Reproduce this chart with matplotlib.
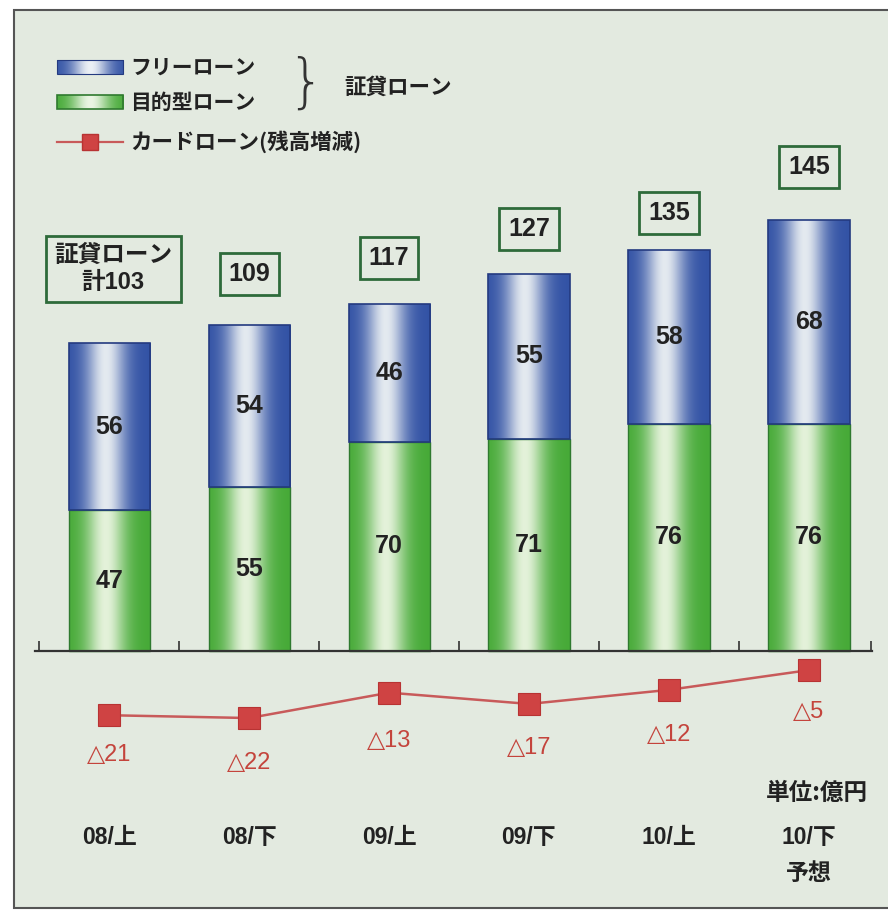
import numpy as np
import matplotlib
matplotlib.use("Agg")
import matplotlib.pyplot as plt
from matplotlib import font_manager as fm
from matplotlib.patches import Rectangle
from matplotlib.lines import Line2D

# ---------------- data ----------------
categories = ["08/上", "08/下", "09/上", "09/下", "10/上", "10/下\n予想"]
purpose_loan = [47, 55, 70, 71, 76, 76]      # 目的型ローン
free_loan = [56, 54, 46, 55, 58, 68]         # フリーローン
totals = [103, 109, 117, 127, 135, 145]      # 証貸ローン計
card_loan = [-21, -22, -13, -17, -12, -5]    # カードローン(残高増減)
card_labels = ["△21", "△22", "△13", "△17", "△12", "△5"]

# ---------------- style ----------------
_names = {f.name for f in fm.fontManager.ttflist}
NUM = "Liberation Sans Narrow" if "Liberation Sans Narrow" in _names else "Liberation Sans"
BG = "#e3eae0"
FONT = [NUM, "Noto Sans CJK JP", "DejaVu Sans"]
JFONT = ["Noto Sans CJK JP", "DejaVu Sans"]
plt.rcParams["font.family"] = FONT
TXT = "#222222"
RED = "#cf4343"
NSZ = 18 if NUM == "Liberation Sans" else 20

W, H = 888, 913
fig = plt.figure(figsize=(W / 100, H / 100), dpi=100, facecolor="white")

# background frame
fig.patches.append(Rectangle((14 / W, 1 - 908 / H), (900 - 14) / W, (908 - 10) / H,
                             transform=fig.transFigure, facecolor=BG,
                             edgecolor="#555555", linewidth=1.5, zorder=-5))

# ---------------- main axes ----------------
px_per_unit = 2.99
base_px = 651
top_px, bot_px = 100, 800
ax = fig.add_axes([35 / W, 1 - bot_px / H, (872 - 35) / W, (bot_px - top_px) / H])
ax.set_facecolor("none")
ylim = ((base_px - bot_px) / px_per_unit, (base_px - top_px) / px_per_unit)
xlim = (-0.53, 5.45)

x = np.arange(len(categories))
bw = 0.58


def gradient(edge, center, n=256, c0=0.45, s=0.24):
    t = np.linspace(0, 1, n)
    f = np.exp(-((t - c0) / s) ** 2)
    edge = np.array(edge) / 255.0
    center = np.array(center) / 255.0
    row = edge[None, :] + (center - edge)[None, :] * f[:, None]
    return row[None, :, :]


blue_grad = gradient((50, 82, 165), (228, 234, 240))
green_grad = gradient((70, 170, 55), (228, 242, 218))

g_bars = ax.bar(x, purpose_loan, width=bw, facecolor="none",
                edgecolor="#2f7a2f", linewidth=1.0, zorder=3)
b_bars = ax.bar(x, free_loan, width=bw, bottom=purpose_loan, facecolor="none",
                edgecolor="#243a80", linewidth=1.2, zorder=3)

for bars, grad in ((g_bars, green_grad), (b_bars, blue_grad)):
    for r in bars:
        x0, y0 = r.get_x(), r.get_y()
        im = ax.imshow(grad, extent=[x0, x0 + r.get_width(), y0, y0 + r.get_height()],
                       aspect="auto", zorder=2, interpolation="bilinear")
        im.set_clip_path(r)

ax.set_xlim(*xlim)
ax.set_ylim(*ylim)

# value labels inside bars
for i in range(len(x)):
    ax.text(x[i], purpose_loan[i] / 2, str(purpose_loan[i]), ha="center", va="center",
            fontsize=NSZ, fontweight="bold", color=TXT, zorder=5)
    ax.text(x[i], purpose_loan[i] + free_loan[i] / 2, str(free_loan[i]), ha="center",
            va="center", fontsize=NSZ, fontweight="bold", color=TXT, zorder=5)

# total boxes
box_px = [269, 274, 258, 229, 213, 167]
for i in range(len(x)):
    yb = (base_px - box_px[i]) / px_per_unit
    if i == 0:
        s = "証貸ローン\n計" + str(totals[i])
        ax.text(x[i] + 0.03, yb, s, ha="center", va="center", fontsize=17,
                fontweight="bold", color=TXT, linespacing=1.2, family=FONT,
                bbox=dict(boxstyle="square,pad=0.35", facecolor="none",
                          edgecolor="#2e6b3a", linewidth=2), zorder=5)
    else:
        ax.text(x[i], yb, str(totals[i]), ha="center", va="center", fontsize=NSZ,
                fontweight="bold", color=TXT,
                bbox=dict(boxstyle="square,pad=0.35", facecolor="none",
                          edgecolor="#2e6b3a", linewidth=2), zorder=5)

# baseline with inward ticks at the category boundaries
for sp in ("top", "right", "left"):
    ax.spines[sp].set_visible(False)
ax.spines["bottom"].set_position(("data", 0))
ax.spines["bottom"].set_color("#333333")
ax.spines["bottom"].set_linewidth(1.6)
ax.spines["bottom"].set_zorder(6)
ax.set_xticks(list(np.arange(-0.5, 5.0, 1.0)) + [5.44])
ax.tick_params(axis="x", direction="in", length=7, width=1.2, color="#333333",
               labelbottom=False)
ax.set_yticks([])

# ---------------- card loan line (own scale) ----------------
ax2 = ax.twinx()
line_ppu = 2.82
line_zero = 656
ax2.set_ylim((line_zero - bot_px) / line_ppu, (line_zero - top_px) / line_ppu)
ax2.set_xlim(*xlim)
ax2.axis("off")
ax2.plot(x, card_loan, color="#c85a5a", linewidth=1.8, zorder=4)
ax2.plot(x, card_loan, linestyle="none", marker="s", markersize=16,
         markerfacecolor=RED, markeredgecolor="#b83333", markeredgewidth=0.8, zorder=5)
lab_off = [14, 16, 17, 15.5, 16, 15]
for i in range(len(x)):
    ax2.text(x[i], card_loan[i] - lab_off[i], card_labels[i], ha="center", va="center",
             fontsize=NSZ - 1, color="#c4443c", family=[NUM, "DejaVu Sans"])

# ---------------- overlay (legend, category labels, unit) ----------------
ov = fig.add_axes([0, 0, 1, 1])
ov.axis("off")
ov.patch.set_alpha(0)

lg_blue = gradient((50, 82, 165), (235, 240, 245), c0=0.5, s=0.28)
lg_green = gradient((70, 170, 55), (235, 245, 228), c0=0.5, s=0.28)
ov.imshow(lg_blue, extent=[57, 123, 74, 60], aspect="auto", zorder=3)
ov.add_patch(Rectangle((57, 60), 66, 14, facecolor="none", edgecolor="#243a80", lw=0.8, zorder=4))
ov.imshow(lg_green, extent=[57, 123, 109, 95], aspect="auto", zorder=3)
ov.add_patch(Rectangle((57, 95), 66, 14, facecolor="none", edgecolor="#2f7a2f", lw=1.2, zorder=4))
ov.set_xlim(0, W)
ov.set_ylim(H, 0)
ov.add_line(Line2D([57, 123], [142, 142], color="#c85a5a", lw=1.6, zorder=3))
ov.add_line(Line2D([90], [142], marker="s", markersize=11, markerfacecolor=RED,
                   markeredgecolor="#b83333", zorder=4))
ov.text(130, 67, "フリーローン", ha="left", va="center", fontsize=15, color=TXT,
        family=JFONT, fontweight="bold")
ov.text(130, 102, "目的型ローン", ha="left", va="center", fontsize=15, color=TXT,
        family=JFONT, fontweight="bold")
ov.text(130, 142, "カードローン(残高増減)", ha="left", va="center", fontsize=15.5, color=TXT,
        family=JFONT, fontweight="bold")
ov.text(306, 84, "}", ha="center", va="center", fontsize=42, color="#333333",
        family=["DejaVu Sans"], fontweight="light")
ov.text(344, 87, "証貸ローン", ha="left", va="center", fontsize=15.5, color=TXT,
        family=JFONT, fontweight="bold")

ov.text(868, 793, "単位:億円", ha="right", va="center", fontsize=17, color=TXT,
        family=JFONT, fontweight="bold")

cat_px = [109, 249, 389, 528, 669, 809]
for cx, lab in zip(cat_px, categories):
    ov.text(cx, 826, lab, ha="center", va="top", fontsize=16.5, color=TXT,
            family=FONT, fontweight="bold", linespacing=1.75)

fig.savefig("out.png", dpi=100, facecolor="white")
